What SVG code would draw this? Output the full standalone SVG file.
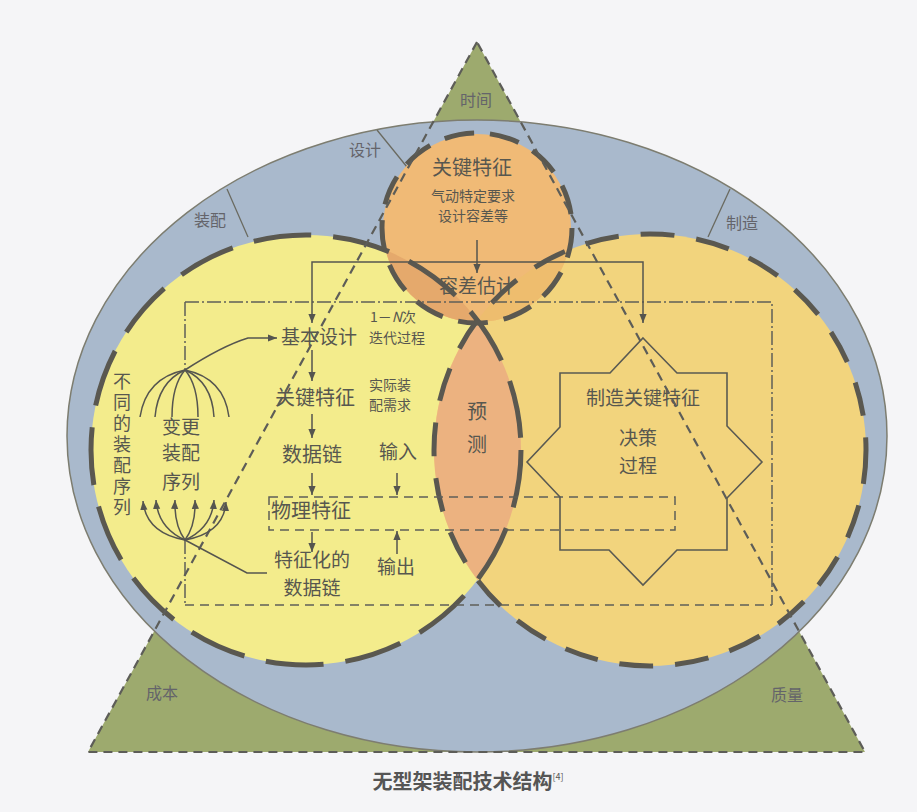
<svg xmlns="http://www.w3.org/2000/svg" width="917" height="812" viewBox="0 0 917 812">
<style>
  text { font-family: "Noto Sans CJK SC", "Noto Sans", sans-serif; fill: #57574f; text-anchor: middle; }
  .ring { font-size: 16px; fill: #64646a; }
  .big { font-size: 20px; }
  .mid { font-size: 19px; }
  .sm { font-size: 14px; }
  .vert { font-size: 18px; writing-mode: vertical-rl; text-anchor: start; letter-spacing: 3px; }
  .cap { font-size: 20px; font-weight: bold; fill: #555555; }
  .dashc { fill: none; stroke: #5a5850; stroke-width: 5; }
  .ln { fill: none; stroke: #55554f; stroke-width: 1.5; }
  .dd { fill: none; stroke: #5f5f58; stroke-width: 1.5; stroke-dasharray: 14 3 2 3; }
  .dsh { fill: none; stroke: #5f5f58; stroke-width: 1.5; stroke-dasharray: 9 6; }
  .tri { fill: none; stroke: #5d5d58; stroke-width: 2.2; stroke-dasharray: 9 6; }
  .div { stroke: #6a6a60; stroke-width: 1.3; }
</style>
<defs>
  <marker id="arr" viewBox="0 0 10 10" refX="10" refY="5" markerWidth="9" markerHeight="9" markerUnits="userSpaceOnUse" orient="auto">
    <path d="M0,1 L10,5 L0,9 z" fill="#55554f"/>
  </marker>
  <clipPath id="clipL"><circle cx="306" cy="450" r="215"/></clipPath>
  <clipPath id="clipR"><circle cx="650" cy="450" r="216"/></clipPath>
</defs>
<rect x="0" y="0" width="917" height="812" fill="#f5f5f7"/>

<g id="triangle">
  <path d="M477,42 L88,752 L865,752 Z" fill="#9daa6e"/>
</g>

<g id="ellipse-ring">
  <ellipse cx="477" cy="436" rx="410" ry="316" fill="#a9b9cc" stroke="#7d7d70" stroke-width="1.5"/>
  <line class="div" x1="377" y1="130" x2="407" y2="167"/>
  <line class="div" x1="227" y1="189" x2="248" y2="237"/>
  <line class="div" x1="730" y1="189" x2="708" y2="237"/>
</g>

<g id="circle-left">
  <circle cx="306" cy="450" r="215" fill="#f3ec8c"/>
</g>
<g id="circle-right">
  <circle cx="650" cy="450" r="216" fill="#f2d47d"/>
</g>
<g id="lens-predict">
  <circle cx="650" cy="450" r="216" fill="#ecb280" clip-path="url(#clipL)"/>
</g>
<g id="circle-top">
  <circle cx="477" cy="228" r="94" fill="#f0ba76"/>
  <circle cx="477" cy="228" r="94" fill="#e5a96c" clip-path="url(#clipL)"/>
  <circle cx="477" cy="228" r="94" fill="#eebd6e" clip-path="url(#clipR)"/>
</g>

<g id="dashed-outlines">
  <circle class="dashc" cx="306" cy="450" r="215" stroke-dasharray="58 22"/>
  <circle class="dashc" cx="650" cy="450" r="216" stroke-dasharray="34 22"/>
  <circle class="dashc" cx="477" cy="228" r="95" stroke-dasharray="30 16"/>
</g>

<g id="frames">
  <path class="dd" d="M185,302 L772,302 L772,605"/>
  <path class="dsh" d="M185,605 L772,605"/>
  <path class="dd" d="M185,302 L185,370"/>
  <path class="dd" d="M185,540 L185,605"/>
  <rect class="dsh" x="269" y="497" width="406" height="33"/>
</g>

<g id="star-decision">
  <polygon points="643,338 677,373 727,373 727,426 762,462 727,498 727,550 677,550 643,585 609,550 560,550 560,497 527,462 560,427 560,373 610,373" fill="none" stroke="#5a5a52" stroke-width="1.6"/>
  <text class="mid" x="643" y="405">制造关键特征</text>
  <text class="mid"><tspan x="638" y="445">决策</tspan><tspan x="638" y="473">过程</tspan></text>
</g>

<g id="triangle-outline">
  <path class="tri" d="M477,42 L88,752 L865,752 Z"/>
</g>

<g id="connectors">
  <path class="ln" d="M477,240 L477,273" marker-end="url(#arr)"/>
  <path class="ln" d="M480,262 L312,262 L312,323" marker-end="url(#arr)"/>
  <path class="ln" d="M480,262 L643,262 L643,323" marker-end="url(#arr)"/>
  <path class="ln" d="M185,370 Q222,346 248,338 L277,338" marker-end="url(#arr)"/>
  <path class="ln" d="M312,350 L312,381" marker-end="url(#arr)"/>
  <path class="ln" d="M312,414 L312,438" marker-end="url(#arr)"/>
  <path class="ln" d="M312,473 L312,495" marker-end="url(#arr)"/>
  <path class="ln" d="M312,532 L312,552" marker-end="url(#arr)"/>
  <path class="ln" d="M397,473 L397,495" marker-end="url(#arr)"/>
  <path class="ln" d="M397,554 L397,531" marker-end="url(#arr)"/>
  <path class="ln" d="M185,540 L247,573 L267,573"/>
  <path class="ln" d="M185,370 Q146,378 140,417"/>
  <path class="ln" d="M185,370 Q158,382 155,417"/>
  <path class="ln" d="M185,370 Q172,385 172,417"/>
  <path class="ln" d="M185,370 Q198,385 198,417"/>
  <path class="ln" d="M185,370 Q212,382 214,417"/>
  <path class="ln" d="M185,370 Q224,378 229,417"/>
  <path class="ln" d="M185,540 Q146,533 143,501" marker-end="url(#arr)"/>
  <path class="ln" d="M185,540 Q158,528 156,500" marker-end="url(#arr)"/>
  <path class="ln" d="M185,540 Q174,525 175,500" marker-end="url(#arr)"/>
  <path class="ln" d="M185,540 Q196,525 195,500" marker-end="url(#arr)"/>
  <path class="ln" d="M185,540 Q212,528 214,500" marker-end="url(#arr)"/>
  <path class="ln" d="M185,540 Q224,533 226,502" marker-end="url(#arr)"/>
</g>

<g id="labels-ring">
  <text class="ring" x="476" y="106">时间</text>
  <text class="ring" x="365" y="156">设计</text>
  <text class="ring" x="210" y="226">装配</text>
  <text class="ring" x="742" y="229">制造</text>
  <text class="ring" x="162" y="699">成本</text>
  <text class="ring" x="787" y="701">质量</text>
</g>

<g id="node-key-features">
  <text class="big" x="472" y="175">关键特征</text>
  <text class="sm"><tspan x="473" y="201">气动特定要求</tspan><tspan x="473" y="221">设计容差等</tspan></text>
</g>
<g id="node-tolerance">
  <text class="mid" x="477" y="293">容差估计</text>
</g>
<g id="node-basic-design">
  <text class="mid" x="319" y="344">基本设计</text>
  <text class="sm"><tspan x="393" y="322">1－<tspan font-style="italic">N</tspan>次</tspan><tspan x="397" y="343">迭代过程</tspan></text>
</g>
<g id="node-key-feature2">
  <text class="big" x="315" y="405">关键特征</text>
  <text class="sm"><tspan x="390" y="390">实际装</tspan><tspan x="390" y="410">配需求</tspan></text>
</g>
<g id="node-data-chain">
  <text class="big" x="312" y="462">数据链</text>
  <text class="mid" x="398" y="459">输入</text>
</g>
<g id="node-physical">
  <text class="big" x="311" y="518">物理特征</text>
</g>
<g id="node-char-chain">
  <text class="mid"><tspan x="312" y="567">特征化的</tspan><tspan x="312" y="595">数据链</tspan></text>
  <text class="mid" x="396" y="574">输出</text>
</g>
<g id="node-change-seq">
  <text class="mid"><tspan x="181" y="434">变更</tspan><tspan x="181" y="460">装配</tspan><tspan x="181" y="489">序列</tspan></text>
</g>
<g id="node-diff-seq">
  <text class="vert" x="122" y="372">不同的装配序列</text>
</g>
<g id="node-predict">
  <text class="big"><tspan x="477" y="419">预</tspan><tspan x="477" y="452">测</tspan></text>
</g>

<g id="caption">
  <text class="cap" x="468" y="789">无型架装配技术结构<tspan font-size="9" font-weight="normal" dy="-9">[4]</tspan></text>
</g>
</svg>
